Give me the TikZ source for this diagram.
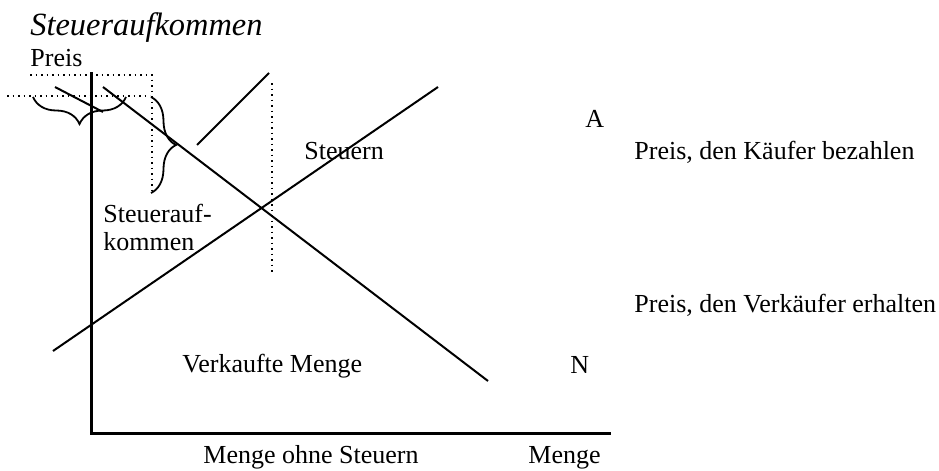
\documentclass[tikz,border=0pt]{standalone}
\usepackage{fontspec}
\setmainfont{Liberation Serif}
\usetikzlibrary{decorations.pathreplacing}
\tikzset{
  lbl/.style={anchor=base west,inner sep=0pt,font=\fontsize{13}{15}\selectfont},
  ttl/.style={anchor=base west,inner sep=0pt,font=\fontsize{16.2}{19}\selectfont\itshape},
  curve/.style={line width=1pt},
  axis/.style={line width=1.5pt},
  guide/.style={dotted,line width=0.75pt},
  brc/.style={decorate,decoration={brace,amplitude=#1},line width=0.9pt},
}

\begin{document}
\begin{tikzpicture}[x=0.5pt,y=-0.5pt]
  \useasboundingbox (0,0) rectangle (939,471);
  % axes
  \coordinate (Ytop) at (91,72);
  \coordinate (O) at (91,433);
  \coordinate (Xend) at (611,433);
  \draw[axis] (Ytop) -- (O) -- (Xend);
  % dotted guides
  \draw[guide] (30,75) -- (152,75) -- (152,193);
  \draw[guide] (7,96) -- (150,96);
  \draw[guide] (272,83) -- (272,272);
  % supply and demand
  \coordinate (S1) at (53,351);
  \coordinate (S2) at (438,87);
  \coordinate (D1) at (103,87);
  \coordinate (D2) at (488,381);
  \draw[curve] (S1) -- (S2);
  \draw[curve] (D1) -- (D2);
  \draw[curve] (55,87) -- (103,112);
  \draw[curve] (197,145) -- (269,73);
  % braces
  \draw[brc=13.5pt] (126,97) -- (33,97);
  \draw[brc=12.5pt] (151,97) -- (151,193);
  % labels
  \node[ttl] (title) at (30,35) {Steueraufkommen};
  \node[lbl] (preis) at (30,67) {Preis};
  \node[lbl] (steuern) at (304,159) {Steuern};
  \node[lbl] (auf1) at (103,222) {Steuerauf-};
  \node[lbl] (auf2) at (103,250) {kommen};
  \node[lbl] (verk) at (182,372) {Verkaufte Menge};
  \node[lbl] (ohne) at (203,463) {Menge ohne Steuern};
  \node[lbl] (menge) at (528,463) {Menge};
  \node[lbl] (A) at (585,127) {A};
  \node[lbl] (N) at (570,373) {N};
  \node[lbl] (kauf) at (634,159) {Preis, den Käufer bezahlen};
  \node[lbl] (verkauf) at (634,312) {Preis, den Verkäufer erhalten};
\end{tikzpicture}
\end{document}
